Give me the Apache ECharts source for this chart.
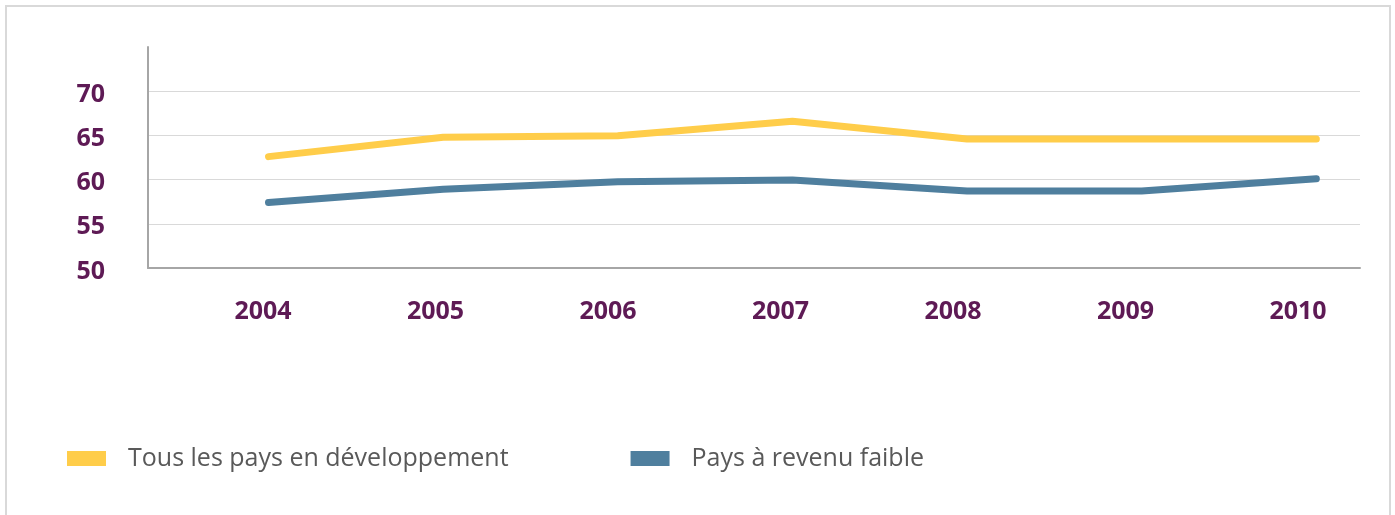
<!DOCTYPE html>
<html>
<head>
<meta charset="utf-8">
<script src="https://cdn.jsdelivr.net/npm/echarts@6/dist/echarts.min.js"></script>
<style>
  html, body { margin: 0; padding: 0; background: #fff; }
  #chart { width: 1395px; height: 515px; }
</style>
</head>
<body>
<div id="chart"></div>
<script>
// years on the x axis
const years = [2004, 2005, 2006, 2007, 2008, 2009, 2010];
const allDeveloping = [62.6, 64.8, 64.95, 66.6, 64.6, 64.6, 64.6];
const lowIncome = [57.4, 58.9, 59.75, 59.95, 58.7, 58.7, 60.1];
const seriesNames = ['Tous les pays en développement', 'Pays à revenu faible'];
const seriesColors = ['#FFCD4A', '#4F7F9E'];
const yTicks = [50, 55, 60, 65, 70];

const PURPLE = '#5E1A55';
const AXIS_GREY = '#A6A6A6';
const GRID_GREY = '#D9D9D9';

const chart = echarts.init(document.getElementById('chart'));

const pairs = vals => years.map((y, i) => [y, vals[i]]);

const tickFont = {
  color: PURPLE,
  fontSize: 25,
  fontWeight: 700,
  fontFamily: 'Open Sans',
};

chart.setOption({
  animation: false,
  graphic: [
    {
      type: 'rect',
      shape: { x: 6, y: 6, width: 1384, height: 600 },
      style: { fill: 'none', stroke: GRID_GREY, lineWidth: 2 },
      silent: true,
    },
  ],
  grid: { left: 148, right: 35, top: 47, bottom: 247 },
  xAxis: [
    {
      // plotting axis (lines)
      type: 'value',
      min: 2003.31,
      max: 2010.25,
      axisLine: { show: true, onZero: false, lineStyle: { color: AXIS_GREY, width: 2 } },
      axisTick: { show: false },
      splitLine: { show: false },
      axisLabel: { show: false },
    },
    {
      // label axis: year labels sit slightly left of the points in the original
      type: 'value',
      position: 'bottom',
      min: 2003.333,
      max: 2010.359,
      axisLine: { show: false },
      axisTick: { show: false },
      splitLine: { show: false },
      axisLabel: {
        customValues: years,
        formatter: v => String(v),
        margin: 31,
        ...tickFont,
      },
    },
  ],
  yAxis: {
    type: 'value',
    min: 50,
    max: 75,
    interval: 5,
    axisLine: { show: true, onZero: false, lineStyle: { color: AXIS_GREY, width: 2 } },
    axisTick: { show: false },
    splitLine: { show: true, showMaxLine: false, lineStyle: { color: GRID_GREY, width: 1 } },
    axisLabel: {
      showMaxLabel: false,
      formatter: v => (yTicks.includes(v) ? String(v) : ''),
      margin: 43,
      verticalAlign: 'top',
      lineHeight: 7,
      ...tickFont,
    },
  },
  legend: {
    left: 67,
    top: 446,
    padding: 0,
    icon: 'rect',
    itemWidth: 39,
    itemHeight: 15,
    itemGap: 122,
    textStyle: {
      color: '#595959',
      fontSize: 25,
      fontFamily: 'Open Sans',
      padding: [0, 0, 0, 17],
    },
    data: seriesNames,
  },
  series: [
    {
      name: seriesNames[0],
      type: 'line',
      xAxisIndex: 0,
      data: pairs(allDeveloping),
      symbol: 'none',
      color: seriesColors[0],
      lineStyle: { color: seriesColors[0], width: 7, cap: 'round', join: 'round' },
    },
    {
      name: seriesNames[1],
      type: 'line',
      xAxisIndex: 0,
      data: pairs(lowIncome),
      symbol: 'none',
      color: seriesColors[1],
      lineStyle: { color: seriesColors[1], width: 7, cap: 'round', join: 'round' },
    },
  ],
});
</script>
</body>
</html>
